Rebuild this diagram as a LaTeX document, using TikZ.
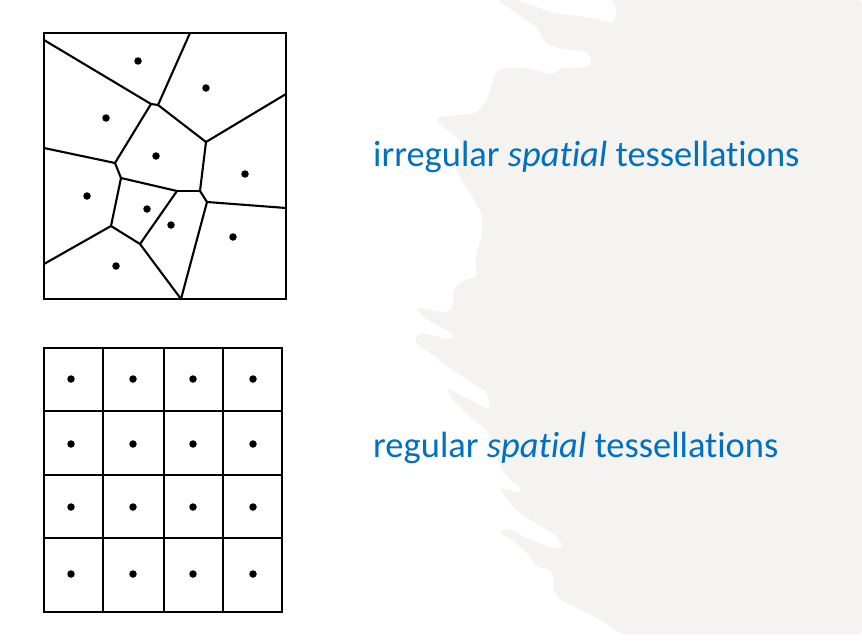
\documentclass[tikz,border=0pt]{standalone}
\usepackage{fontspec}
\setmainfont{Carlito}[Ligatures=NoCommon]
\usetikzlibrary{positioning}
\definecolor{slideblue}{HTML}{0070C0}
\definecolor{paper}{HTML}{F4F3EF}
\tikzset{
  site/.style={circle, fill=black, minimum size=7.5pt, inner sep=0pt},
  cell/.style={line width=2.1pt, line join=round, line cap=round},
  border/.style={line width=2.8pt},
  caption/.style={anchor=base west, inner sep=0pt, text=slideblue, font=\fontsize{36.5}{44}\selectfont}
}
\begin{document}
\begin{tikzpicture}[x=1pt,y=-1pt]
  \useasboundingbox (0,0) rectangle (862,642);
  % paper stroke behind the captions
  \fill[paper, rounded corners=4pt] (497,0) -- (537,27) -- (545,43) -- (557,48) -- (587,52) -- (593,62) -- (587,67)
    -- (560,68) -- (553,75) -- (543,72) -- (520,67) -- (497,70) -- (492,83) -- (487,100) -- (477,113) -- (440,117)
    -- (435,120) -- (447,130) -- (460,140) -- (462,155) -- (455,170) -- (470,193) -- (482,213) -- (482,233)
    -- (475,260) -- (477,277) -- (463,280) -- (453,290) -- (453,307) -- (448,313) -- (430,310) -- (418,307)
    -- (417,310) -- (427,320) -- (447,330) -- (455,338) -- (447,339) -- (423,333) -- (415,335) -- (417,345)
    -- (433,355) -- (457,373) -- (475,385) -- (487,392) -- (490,410) -- (470,400) -- (447,388) -- (450,397)
    -- (470,417) -- (487,430) -- (495,450) -- (500,467) -- (510,480) -- (523,490) -- (520,493) -- (503,488)
    -- (500,490) -- (513,507) -- (530,520) -- (553,533) -- (565,547) -- (553,548) -- (530,540) -- (507,528)
    -- (498,533) -- (510,538) -- (527,553) -- (538,568) -- (547,568) -- (553,573) -- (553,590) -- (560,600)
    -- (577,608) -- (600,620) -- (622,634) -- (862,634) -- (862,0) -- cycle;
  \fill[white, rounded corners=3pt] (517,0) -- (553,13) -- (593,18) -- (613,23) -- (617,13) -- (613,0) -- cycle;

  % irregular cells
  \draw[border] (44,33) rectangle (286,299);
  \coordinate (l1) at (44,40);  \coordinate (l2) at (44,148); \coordinate (l3) at (44,264);
  \coordinate (t1) at (190,33); \coordinate (r1) at (286,94); \coordinate (r2) at (286,208);
  \coordinate (b1) at (181,299);
  \coordinate (v1) at (151,104); \coordinate (v2) at (158,105); \coordinate (v3) at (206,142);
  \coordinate (v4) at (115,163); \coordinate (v5) at (121,178); \coordinate (v6) at (200,191);
  \coordinate (v7) at (177,191); \coordinate (v8) at (207,202); \coordinate (v9) at (111,226);
  \coordinate (v10) at (140,244);
  \foreach \a/\b in {l1/v1,v1/v2,t1/v2,v2/v3,v3/r1,v1/v4,l2/v4,v4/v5,v3/v6,v5/v7,v7/v6,v6/v8,v8/r2,
                     v5/v9,v9/l3,v7/v10,v9/v10,v10/b1,v8/b1}
    \draw[cell] (\a) -- (\b);
  \foreach \i/\x/\y in {1/138/61,2/206/88,3/106/118,4/156/156,5/245/174,6/87/196,7/147/209,8/171/225,9/233/237,10/116/266}
    \node[site] (s\i) at (\x,\y) {};

  % regular cells
  \draw[border] (44,348) rectangle (282,612);
  \foreach \x in {103,164,223} \draw[cell] (\x,348) -- (\x,612);
  \foreach \y in {411,475,538} \draw[cell] (44,\y) -- (282,\y);
  \foreach \x [count=\i] in {71,133,193,253}
    \foreach \y [count=\j] in {379,444,507,574}
      \node[site] (g\i\j) at (\x,\y) {};

  \node[caption] (irr) at (373,166) {irregular \textit{spatial} tessellations};
  \node[caption] (reg) at (373,457) {regular \textit{spatial} tessellations};
\end{tikzpicture}
\end{document}
